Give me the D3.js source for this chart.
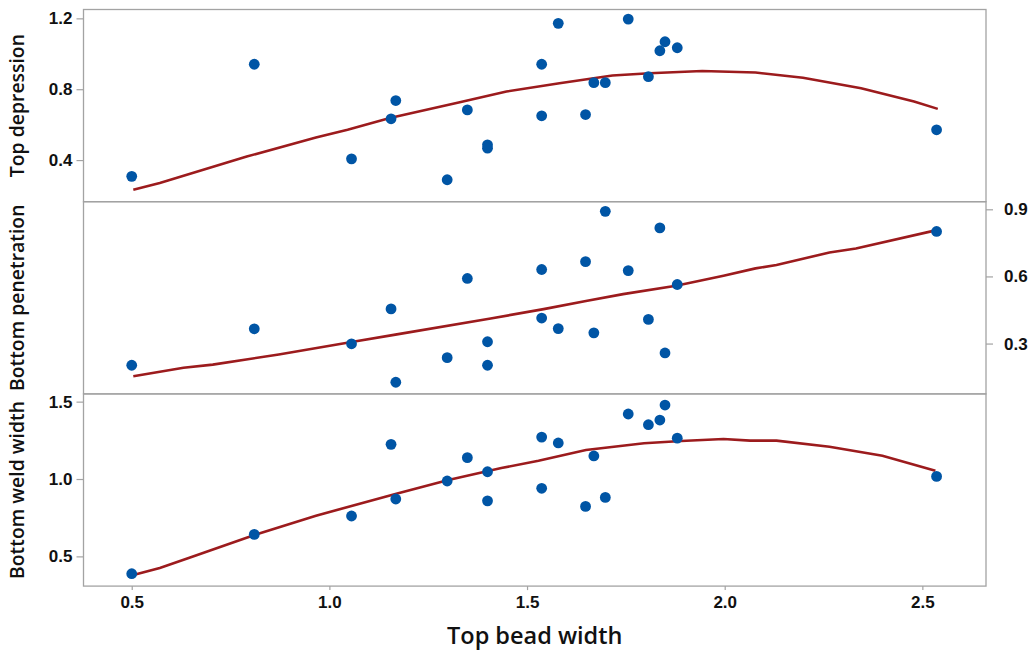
<!DOCTYPE html>
<html>
<head>
<meta charset="utf-8">
<script src="https://cdn.jsdelivr.net/npm/d3@7"></script>
<style>
  body { margin: 0; background: #fff; }
  svg { display: block; font-family: "Open Sans", "Noto Sans", sans-serif; }
</style>
</head>
<body>
<script>
// x values shared by all three panels (Top bead width)
const topBeadWidth = [0.50, 0.81, 1.056, 1.156, 1.168, 1.298, 1.349, 1.40, 1.40, 1.537, 1.537,
                      1.579, 1.648, 1.669, 1.698, 1.756, 1.807, 1.836, 1.849, 1.88, 2.536];

// responses
const topDepression     = [0.308, 0.941, 0.407, 0.633, 0.736, 0.289, 0.683, 0.486, 0.467, 0.941, 0.650,
                           1.172, 0.657, 0.837, 0.837, 1.196, 0.871, 1.017, 1.068, 1.034, 0.571];
const bottomPenetration = [0.203, 0.366, 0.299, 0.455, 0.127, 0.237, 0.591, 0.308, 0.203, 0.631, 0.414,
                           0.367, 0.666, 0.348, 0.891, 0.626, 0.408, 0.817, 0.258, 0.564, 0.801];
const bottomWeldWidth   = [0.388, 0.642, 0.761, 1.224, 0.871, 0.987, 1.138, 1.047, 0.859, 1.271, 0.940,
                           1.233, 0.823, 1.149, 0.881, 1.420, 1.351, 1.381, 1.478, 1.264, 1.017];

// smoother vertices for each panel
const fitDepressionX = [0.504, 0.571, 0.791, 0.966, 1.046, 1.153, 1.327, 1.448, 1.582, 1.716, 1.81, 1.943, 2.078, 2.198, 2.345, 2.479, 2.539];
const fitDepressionY = [0.233, 0.270, 0.420, 0.527, 0.571, 0.637, 0.725, 0.787, 0.834, 0.877, 0.890, 0.903, 0.894, 0.865, 0.806, 0.730, 0.689];

const fitPenetrationX = [0.504, 0.631, 0.705, 0.872, 1.06, 1.167, 1.408, 1.542, 1.649, 1.743, 1.877, 1.997, 2.078, 2.131, 2.265, 2.332, 2.539];
const fitPenetrationY = [0.154, 0.192, 0.206, 0.251, 0.308, 0.340, 0.412, 0.454, 0.490, 0.521, 0.558, 0.603, 0.636, 0.651, 0.707, 0.725, 0.808];

const fitWeldX = [0.504, 0.571, 0.644, 0.805, 0.966, 1.167, 1.301, 1.435, 1.529, 1.649, 1.796, 1.89, 1.997, 2.064, 2.131, 2.265, 2.399, 2.533];
const fitWeldY = [0.379, 0.425, 0.489, 0.634, 0.763, 0.903, 0.994, 1.071, 1.118, 1.187, 1.231, 1.246, 1.259, 1.248, 1.248, 1.209, 1.151, 1.054];

const xTicks = [0.5, 1.0, 1.5, 2.0, 2.5];

const panels = [
  { title: "Top depression", y: topDepression, fx: fitDepressionX, fy: fitDepressionY,
    domain: [0.165, 1.25], ticks: [0.4, 0.8, 1.2], side: "left" },
  { title: "Bottom penetration", y: bottomPenetration, fx: fitPenetrationX, fy: fitPenetrationY,
    domain: [0.075, 0.934], ticks: [0.3, 0.6, 0.9], side: "right" },
  { title: "Bottom weld width", y: bottomWeldWidth, fx: fitWeldX, fy: fitWeldY,
    domain: [0.308, 1.55], ticks: [0.5, 1.0, 1.5], side: "left" }
];

const width = 1034, height = 651;
const plotLeft = 83.5, plotRight = 986, plotTop = 9.5, panelH = 192.2;

const svg = d3.select("body").append("svg")
  .attr("width", width)
  .attr("height", height);

const x = d3.scaleLinear().domain([0.378, 2.661]).range([plotLeft, plotRight]);

const blue = "#0055a5", red = "#9c1b1d", frame = "#a3a3a3";

panels.forEach((p, i) => {
  const y0 = plotTop + i * panelH, y1 = y0 + panelH;
  const y = d3.scaleLinear().domain(p.domain).range([y1, y0]);
  const g = svg.append("g");

  // y axis
  const axis = (p.side === "left" ? d3.axisLeft(y) : d3.axisRight(y))
    .tickValues(p.ticks)
    .tickFormat(d3.format(".1f"))
    .tickSizeInner(7).tickSizeOuter(0)
    .tickPadding(p.side === "left" ? 4 : 11);
  const ag = g.append("g")
    .attr("transform", `translate(${p.side === "left" ? plotLeft : plotRight},0)`)
    .call(axis);
  ag.select(".domain").remove();
  ag.selectAll("line").attr("stroke", frame).attr("stroke-width", 1.2);
  ag.selectAll("text").attr("fill", "#111").style("font-size", "17px").style("font-weight", 600);

  // panel title
  g.append("text")
    .attr("transform", `translate(24,${(y0 + y1) / 2}) rotate(-90)`)
    .attr("text-anchor", "middle")
    .attr("fill", "#111")
    .style("font-size", "19.4px")
    .style("font-weight", 600)
    .text(p.title);

  // smoother
  const line = d3.line().x(d => x(d[0])).y(d => y(d[1]));
  g.append("path")
    .datum(p.fx.map((v, k) => [v, p.fy[k]]))
    .attr("d", line)
    .attr("fill", "none")
    .attr("stroke", red)
    .attr("stroke-width", 2.6);

  // points
  g.selectAll("circle")
    .data(topBeadWidth.map((v, k) => [v, p.y[k]]))
    .join("circle")
    .attr("cx", d => x(d[0]))
    .attr("cy", d => y(d[1]))
    .attr("r", 5.4)
    .attr("fill", blue);

  // frame
  g.append("rect")
    .attr("x", plotLeft).attr("y", y0)
    .attr("width", plotRight - plotLeft).attr("height", panelH)
    .attr("fill", "none")
    .attr("stroke", frame)
    .attr("stroke-width", 1.3);
});

// x axis
const plotBottom = plotTop + 3 * panelH;
const xg = svg.append("g")
  .attr("transform", `translate(0,${plotBottom})`)
  .call(d3.axisBottom(x).tickValues(xTicks).tickFormat(d3.format(".1f"))
    .tickSizeInner(4).tickSizeOuter(0).tickPadding(6));
xg.select(".domain").remove();
xg.selectAll("line").attr("stroke", frame).attr("stroke-width", 1.2);
xg.selectAll("text").attr("fill", "#111").style("font-size", "17px").style("font-weight", 600);

svg.append("text")
  .attr("x", (plotLeft + plotRight) / 2)
  .attr("y", 644)
  .attr("text-anchor", "middle")
  .attr("fill", "#111")
  .style("font-size", "23.5px")
  .style("font-weight", 600)
  .text("Top bead width");
</script>
</body>
</html>
